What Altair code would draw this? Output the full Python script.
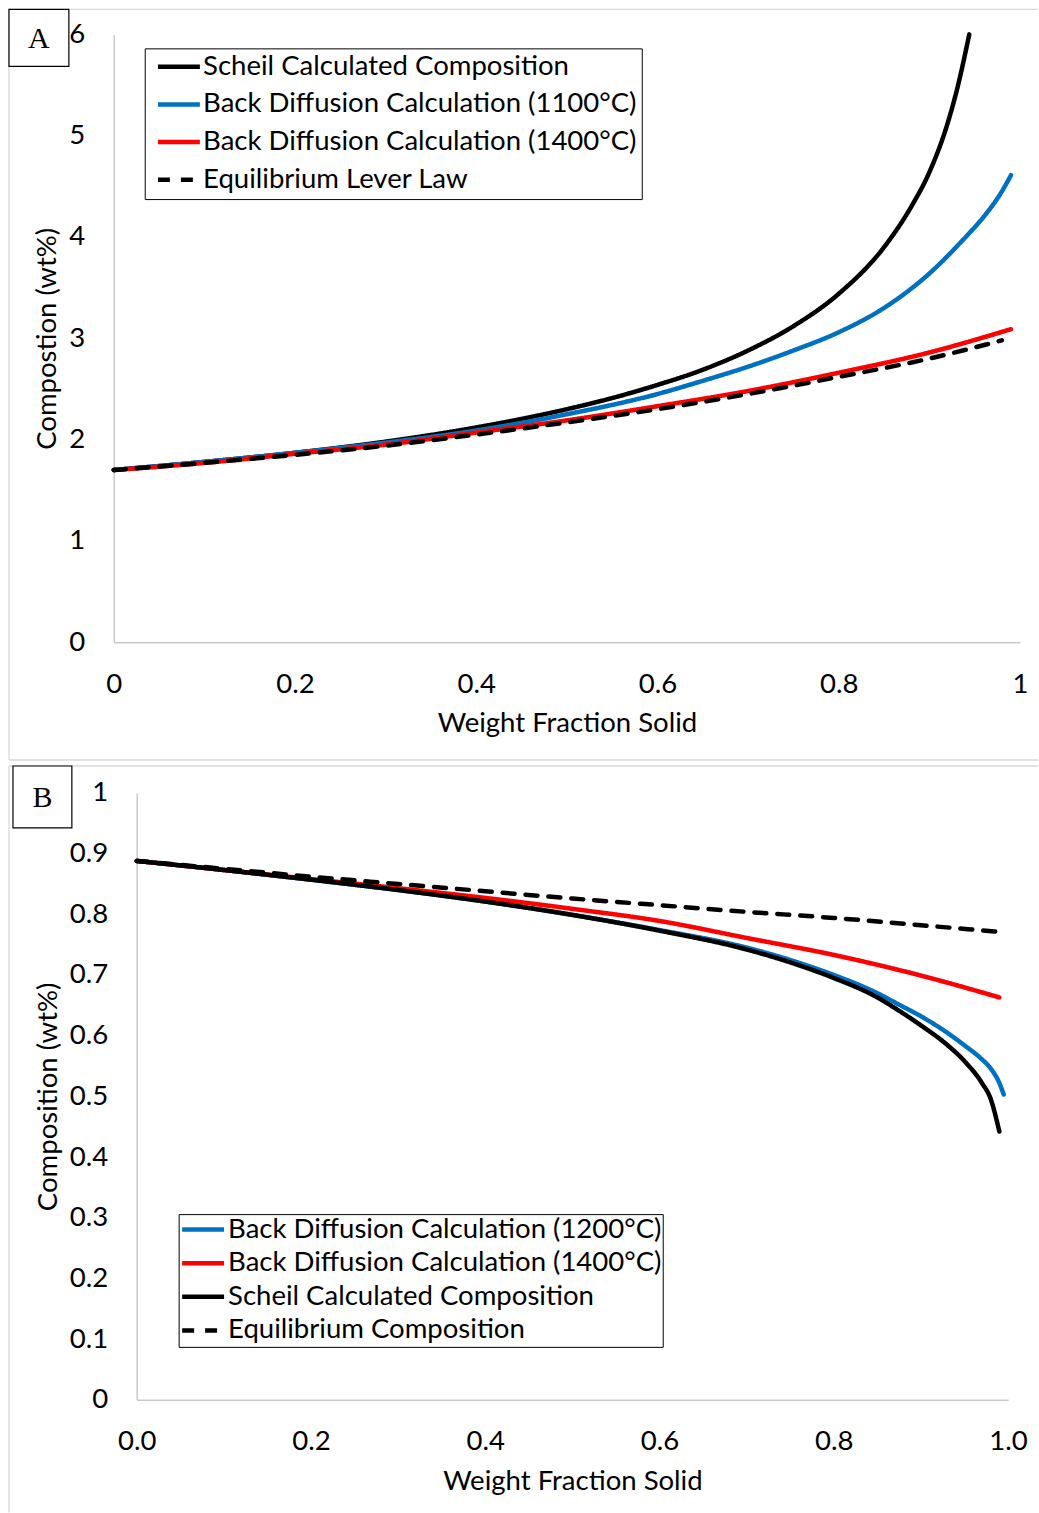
import altair as alt
import pandas as pd

# ---------------- Panel A: solute enrichment in the liquid ----------------
A_SERIES = [
    "Scheil Calculated Composition",
    "Back Diffusion Calculation (1100°C)",
    "Back Diffusion Calculation (1400°C)",
    "Equilibrium Lever Law",
]
A_COLORS = ["#000000", "#0070C0", "#FF0000", "#000000"]

a_scheil_x = [0, 0.1, 0.2, 0.3, 0.4, 0.5, 0.55, 0.6, 0.65, 0.7, 0.75, 0.8, 0.85, 0.88, 0.9, 0.92, 0.93, 0.944]
a_scheil_y = [1.70, 1.78, 1.87, 1.98, 2.12, 2.30, 2.41, 2.54, 2.69, 2.88, 3.12, 3.44, 3.90, 4.30, 4.64, 5.12, 5.44, 6.00]

a_bd1100_x = [0, 0.1, 0.2, 0.3, 0.4, 0.5, 0.6, 0.65, 0.7, 0.75, 0.8, 0.85, 0.9, 0.94, 0.96, 0.98, 0.99]
a_bd1100_y = [1.70, 1.78, 1.87, 1.97, 2.09, 2.25, 2.45, 2.58, 2.72, 2.88, 3.06, 3.30, 3.64, 4.00, 4.20, 4.45, 4.61]

a_bd1400_x = [0, 0.1, 0.2, 0.3, 0.4, 0.5, 0.6, 0.7, 0.8, 0.9, 0.99]
a_bd1400_y = [1.70, 1.77, 1.86, 1.95, 2.07, 2.19, 2.33, 2.48, 2.66, 2.86, 3.09]

a_lever_x = [0, 0.1, 0.2, 0.3, 0.4, 0.5, 0.6, 0.7, 0.8, 0.9, 0.98]
a_lever_y = [1.70, 1.77, 1.85, 1.94, 2.05, 2.17, 2.30, 2.45, 2.62, 2.80, 2.98]

A_X_TICKS = [0, 0.2, 0.4, 0.6, 0.8, 1]
A_Y_TICKS = [0, 1, 2, 3, 4, 5, 6]

# ---------------- Panel B: solid composition ----------------
B_SERIES = [
    "Back Diffusion Calculation (1200°C)",
    "Back Diffusion Calculation (1400°C)",
    "Scheil Calculated Composition",
    "Equilibrium Composition",
]
B_COLORS = ["#0070C0", "#FF0000", "#000000", "#000000"]

b_bd1200_x = [0, 0.1, 0.2, 0.3, 0.4, 0.5, 0.6, 0.7, 0.76, 0.8, 0.85, 0.875, 0.9, 0.93, 0.95, 0.97, 0.98, 0.99, 0.995]
b_bd1200_y = [0.888, 0.873, 0.857, 0.840, 0.821, 0.799, 0.774, 0.745, 0.720, 0.700, 0.670, 0.651, 0.632, 0.605, 0.584, 0.561, 0.546, 0.522, 0.503]

b_bd1400_x = [0, 0.1, 0.2, 0.3, 0.4, 0.5, 0.6, 0.7, 0.8, 0.9, 0.99]
b_bd1400_y = [0.888, 0.873, 0.858, 0.843, 0.827, 0.809, 0.789, 0.761, 0.733, 0.699, 0.663]

b_scheil_x = [0, 0.1, 0.2, 0.3, 0.4, 0.5, 0.6, 0.7, 0.76, 0.8, 0.85, 0.875, 0.9, 0.93, 0.95, 0.97, 0.98, 0.99]
b_scheil_y = [0.888, 0.873, 0.857, 0.840, 0.821, 0.799, 0.773, 0.742, 0.716, 0.695, 0.663, 0.641, 0.617, 0.585, 0.558, 0.522, 0.496, 0.442]

b_equil_x = [0, 0.1, 0.2, 0.3, 0.4, 0.5, 0.6, 0.7, 0.8, 0.9, 0.99]
b_equil_y = [0.888, 0.875, 0.862, 0.850, 0.838, 0.826, 0.815, 0.804, 0.794, 0.782, 0.771]

B_X_TICKS = [0, 0.2, 0.4, 0.6, 0.8, 1.0]
B_Y_TICKS = [0, 0.1, 0.2, 0.3, 0.4, 0.5, 0.6, 0.7, 0.8, 0.9, 1]

SOLID = [1, 0]
DASHED = [12, 11]

FONT = "Lato"
FS = 27.6
FRAME = "#D9D9D9"
AXIS_LINE = "#C9C9C9"


def frame_of(pairs):
    rows = []
    for name, (xs, ys) in pairs.items():
        rows += [{"series": name, "x": x, "y": y} for x, y in zip(xs, ys)]
    return pd.DataFrame(rows)


df_a = frame_of({
    A_SERIES[0]: (a_scheil_x, a_scheil_y),
    A_SERIES[1]: (a_bd1100_x, a_bd1100_y),
    A_SERIES[2]: (a_bd1400_x, a_bd1400_y),
    A_SERIES[3]: (a_lever_x, a_lever_y),
})
df_b = frame_of({
    B_SERIES[0]: (b_bd1200_x, b_bd1200_y),
    B_SERIES[1]: (b_bd1400_x, b_bd1400_y),
    B_SERIES[2]: (b_scheil_x, b_scheil_y),
    B_SERIES[3]: (b_equil_x, b_equil_y),
})

one = pd.DataFrame({"k": [0]})


def panel(df, series, colors, letter, w, h, xr, yr, x_off, y_off,
          xticks, yticks, xfmt, yfmt, ytitle, ytitle_x, xtitle_y,
          legend_kw, box):
    # decorative chart-area border (top, left, bottom) and the panel letter
    deco = [
        alt.Chart(one).mark_rule(color=FRAME, strokeWidth=1.3).encode(
            x=alt.value(0), x2=alt.value(w), y=alt.value(0)),
        alt.Chart(one).mark_rule(color=FRAME, strokeWidth=1.3).encode(
            x=alt.value(0), y=alt.value(0), y2=alt.value(h)),
    ]
    if letter == "A":
        deco.append(alt.Chart(one).mark_rule(color=FRAME, strokeWidth=1.3).encode(
            x=alt.value(0), x2=alt.value(w), y=alt.value(h)))
    bx0, by0, bx1, by1 = box
    deco.append(alt.Chart(one).mark_rect(fill="white", stroke="black", strokeWidth=1.2).encode(
        x=alt.value(bx0), x2=alt.value(bx1), y=alt.value(by0), y2=alt.value(by1)))
    deco.append(alt.Chart(one).mark_text(
        text=letter, font="Liberation Serif", fontSize=30, color="black",
        align="center", baseline="middle").encode(
        x=alt.value((bx0 + bx1) / 2), y=alt.value((by0 + by1) / 2 + 1)))

    legend = alt.Legend(
        title=None, orient="none", strokeColor="black", fillColor="white",
        symbolType="stroke", symbolSize=1764, symbolStrokeWidth=4.5,
        labelFont=FONT, labelFontSize=FS, labelColor="black",
        labelLimit=800, **legend_kw)

    x_axis = alt.Axis(
        values=xticks, format=xfmt, grid=False, ticks=False, labelFlush=False,
        domainColor=AXIS_LINE, domainWidth=1.5, offset=x_off,
        labelFont=FONT, labelFontSize=FS, labelColor="black", labelPadding=28,
        title="Weight Fraction Solid", titleFont=FONT, titleFontSize=FS,
        titleFontWeight="normal", titleColor="black", titleY=xtitle_y,
        titleBaseline="middle")
    y_axis = alt.Axis(
        values=yticks, format=yfmt, grid=False, ticks=False, labelFlush=False,
        domainColor=AXIS_LINE, domainWidth=1.5, offset=y_off,
        labelFont=FONT, labelFontSize=FS, labelColor="black", labelPadding=29,
        title=ytitle, titleFont=FONT, titleFontSize=FS,
        titleFontWeight="normal", titleColor="black", titleX=ytitle_x,
        titleBaseline="middle")

    lines = []
    for s in series:
        lines.append(
            alt.Chart(df).transform_filter(alt.datum.series == s)
            .mark_line(strokeWidth=4.5, strokeCap="round", strokeJoin="round",
                       interpolate="monotone")
            .encode(
                x=alt.X("x:Q", scale=alt.Scale(domain=[0, 1], range=xr, nice=False), axis=x_axis),
                y=alt.Y("y:Q", scale=alt.Scale(domain=[yticks[0], yticks[-1]], range=yr, nice=False), axis=y_axis),
                color=alt.Color("series:N", scale=alt.Scale(domain=series, range=colors), legend=legend),
                strokeDash=alt.StrokeDash("series:N", scale=alt.Scale(domain=series, range=[SOLID, SOLID, SOLID, DASHED]), legend=legend),
            )
        )
    return alt.layer(*deco, *lines).properties(width=w, height=h)


W = 1031

panel_a = panel(
    df_a, A_SERIES, A_COLORS, "A", W, 752,
    xr=[105, 1013], yr=[634, 25], x_off=-118, y_off=-105,
    xticks=A_X_TICKS, yticks=A_Y_TICKS, xfmt="~g", yfmt="~g",
    ytitle="Compostion (wt%)", ytitle_x=-66, xtitle_y=81,
    legend_kw=dict(legendX=136, legendY=39, padding=5, rowPadding=8.7,
                   clipHeight=27, symbolOffset=5.75, labelOffset=0.75),
    box=[0, 0, 60, 57],
)

panel_b = panel(
    df_b, B_SERIES, B_COLORS, "B", W, 748,
    xr=[128, 1001], yr=[635, 27], x_off=-113, y_off=-128,
    xticks=B_X_TICKS, yticks=B_Y_TICKS, xfmt=".1f", yfmt="~g",
    ytitle="Composition (wt%)", ytitle_x=-88, xtitle_y=82,
    legend_kw=dict(legendX=170, legendY=449, padding=1, rowPadding=4.7,
                   clipHeight=29, symbolOffset=0, labelOffset=1.5),
    box=[4, 0, 63, 62],
)

chart = (
    alt.vconcat(panel_a, panel_b, spacing=4)
    .resolve_scale(x="independent", y="independent",
                   color="independent", strokeDash="independent")
    .resolve_legend(color="independent", strokeDash="independent")
    .configure_view(strokeWidth=0)
    .properties(padding={"top": 7, "left": 8, "right": 0, "bottom": 0}, background="white")
)

chart.save("out.html", embed_options={"renderer": "svg", "actions": False})
